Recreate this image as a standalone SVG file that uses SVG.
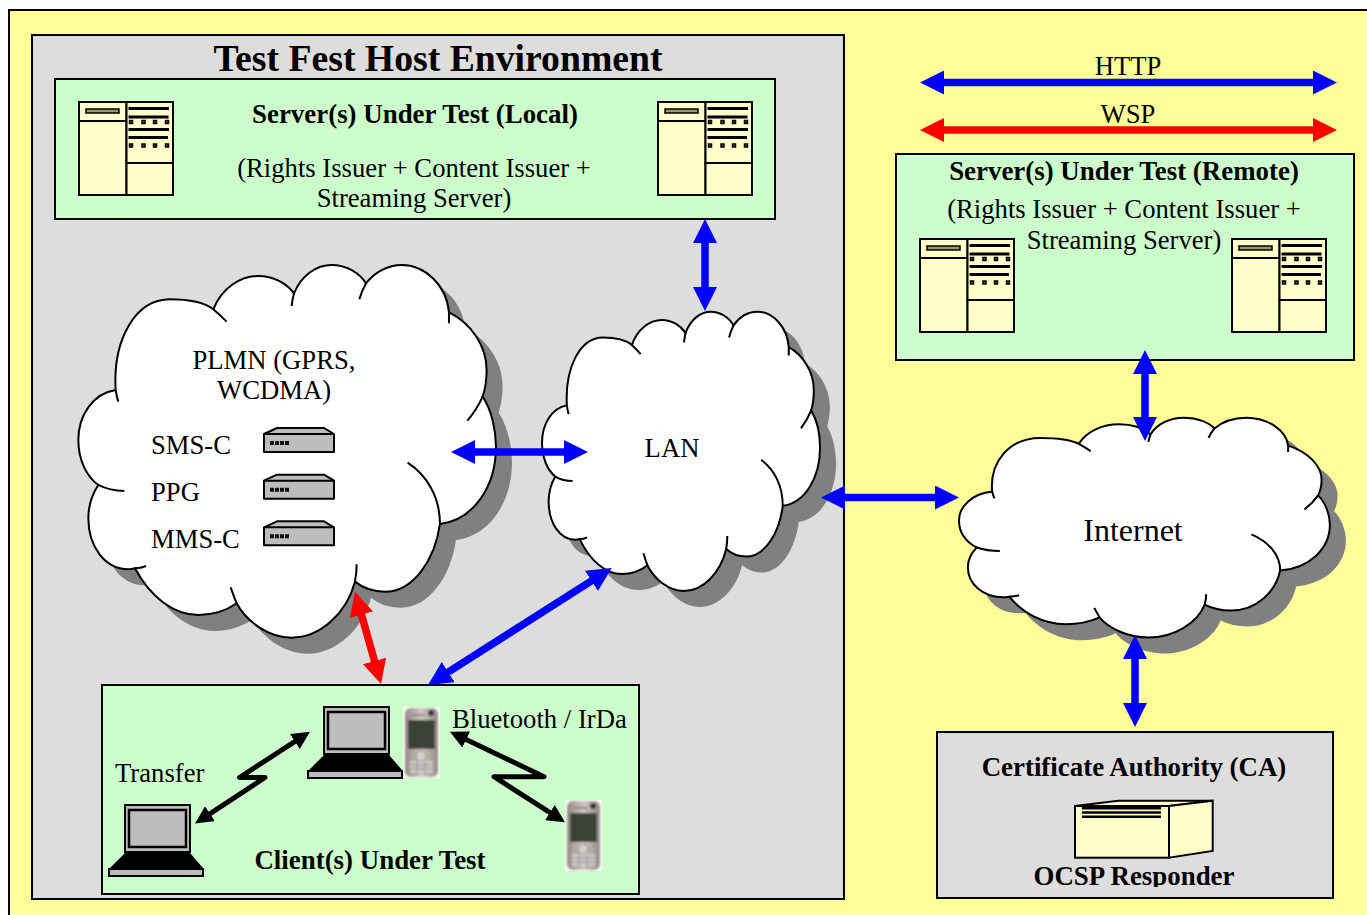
<svg xmlns="http://www.w3.org/2000/svg" xmlns:xlink="http://www.w3.org/1999/xlink" width="1367" height="915" viewBox="0 0 1367 915">
<style>
text{font-family:"Liberation Serif","Times New Roman",serif;fill:#000;font-size:26.67px}
.b{font-weight:bold;font-size:26.900px}
.m{text-anchor:middle}
.box{stroke:#000;stroke-width:2}
.green{fill:#ccffcc}
.grey{fill:#dddddd}
.cream{fill:#ffffcc;stroke:#000;stroke-width:2}
.cloud{fill:#fff;stroke:#000;stroke-width:2}
.tick{fill:none;stroke:#000;stroke-width:2}
.ns{vector-effect:non-scaling-stroke}
.shadow{fill:#808080}
.blue{fill:none;stroke:#0000ff;stroke-width:7.500;marker-start:url(#hb);marker-end:url(#hb)}
.red{fill:none;stroke:#ff0000;stroke-width:7.500;marker-start:url(#hr);marker-end:url(#hr)}
.zig{fill:none;stroke:#000;stroke-width:5;stroke-linejoin:round;marker-start:url(#hk);marker-end:url(#hk)}
</style>
<defs>
<marker id="hb" markerUnits="userSpaceOnUse" markerWidth="24" markerHeight="24" viewBox="0 0 24 24" refX="1" refY="12" orient="auto-start-reverse"><path d="M0,0L24,12L0,24z" fill="#0000ff"/></marker>
<marker id="hr" markerUnits="userSpaceOnUse" markerWidth="24" markerHeight="24" viewBox="0 0 24 24" refX="1" refY="12" orient="auto-start-reverse"><path d="M0,0L24,12L0,24z" fill="#ff0000"/></marker>
<marker id="hk" markerUnits="userSpaceOnUse" markerWidth="18" markerHeight="18" viewBox="0 0 18 18" refX="3" refY="9" orient="auto-start-reverse"><path d="M0,0L18,9L0,18z" fill="#000"/></marker>
<path id="cp" class="ns" d="M137,420C128,270 195,148 300,148C350,148 400,155 430,178C455,115 510,78 565,78C610,78 650,100 672,130C695,75 740,45 785,45C830,45 870,70 888,100C915,65 955,45 995,45C1065,45 1130,105 1137,187C1205,220 1250,290 1250,360C1250,390 1245,420 1238,440C1265,480 1278,540 1278,590C1278,710 1210,810 1110,822C1095,930 1030,1025 945,1025C910,1025 880,1015 855,995C830,1090 750,1163 665,1163C595,1163 530,1115 500,1060C465,1085 425,1095 385,1095C310,1095 240,1040 195,955C185,958 180,958 175,958C105,958 55,890 55,805C55,765 65,735 85,705C50,680 25,630 25,570C25,495 70,430 137,420Z"/>
<path id="ct" class="ns" d="M137,420Q140,440 145,455M430,178Q450,195 470,215M672,130Q667,150 665,168M888,100Q875,125 868,148M1137,187L1137,220M1238,440Q1220,480 1192,512M1110,822C1110,740 1070,675 1013,638M855,995Q860,970 860,943M500,1060Q490,1035 482,1012M195,955Q212,955 228,948M85,705Q120,723 163,723"/>
<g id="srv">
<rect class="cream" x="0" y="0" width="47.500" height="93"/>
<rect class="cream" x="47.500" y="0" width="46.500" height="61"/>
<rect class="cream" x="47.500" y="61" width="46.500" height="32"/>
<path d="M0,19H47.500" stroke="#000" stroke-width="2"/>
<rect x="7" y="7" width="33" height="4" fill="#999966" stroke="#000" stroke-width="1.500"/>
<path d="M49.500,6.500H90M49.500,15H89.500M49.500,27.500H90M49.500,35.500H89" stroke="#000" stroke-width="3"/>
<path d="M50.500,18.500h3v3h-3zM63,18.500h3v3h-3zM74.500,18.500h3v3h-3zM86.500,18.500h3v3h-3zM50.500,42h3v3h-3zM63,42h3v3h-3zM74.500,42h3v3h-3zM86.500,42h3v3h-3z" fill="#555" stroke="#000" stroke-width="1.500"/>
</g>
<g id="rt">
<path d="M0,6L13,0H60L70,6V24H0Z" fill="#bdbdbd" stroke="#000" stroke-width="2" stroke-linejoin="round"/>
<path d="M0,6H70" stroke="#000" stroke-width="2"/>
<path d="M6,13h4v4h-4zM11,13h4v4h-4zM16,13h4v4h-4zM21,13h4v4h-4z" fill="#111"/>
</g>
<g id="lap">
<rect x="1" y="0" width="65" height="47" fill="#bdbdbd" stroke="#000" stroke-width="2"/>
<rect x="5" y="5" width="57" height="37" fill="#bdbdbd" stroke="#000" stroke-width="2.500"/>
<path d="M1,48H66L79,63H-14Z" fill="#000"/>
<rect x="27" y="57" width="43" height="4" fill="#000"/>
<rect x="-15" y="64" width="94" height="7" fill="#bdbdbd" stroke="#000" stroke-width="2"/>
</g>
<linearGradient id="pg" x1="0" x2="1" y1="0" y2="0"><stop offset="0" stop-color="#948a84"/><stop offset=".5" stop-color="#d2c8c4"/><stop offset="1" stop-color="#948a84"/></linearGradient>
<filter id="soft" x="-5%" y="-5%" width="110%" height="110%"><feGaussianBlur stdDeviation="1"/></filter>
<g id="ph">
<rect x="0" y="0" width="37" height="71" fill="#fbfbf6"/>
<g filter="url(#soft)">
<rect x="2" y="1" width="33" height="69" rx="6" fill="url(#pg)"/>
<rect x="5" y="13" width="27" height="29" fill="#3e4238"/>
<circle cx="28" cy="6" r="3" fill="#333"/>
<rect x="8" y="7" width="14" height="2" fill="#888"/>
<circle cx="18" cy="49" r="5" fill="#d8d2ce" stroke="#8a8a8a"/>
<path d="M7,54H30V66H7Z" fill="#cbc7c7"/>
<path d="M7,58H30M7,62H30M14,54V67M22,54V67" stroke="#9a9595" stroke-width="1"/>
</g>
</g>
<clipPath id="caclip"><rect x="937" y="732" width="396" height="155"/></clipPath>
</defs>

<rect x="0" y="0" width="1367" height="915" fill="#fff"/>
<rect id="page" class="box" x="9" y="10" width="1370" height="920" fill="#ffff99"/>

<g id="host">
<rect class="box grey" x="32" y="35" width="812" height="864"/>
<text class="b m" x="438" y="71" style="font-size:37.700px">Test Fest Host Environment</text>
</g>

<g id="local">
<rect class="box green" x="55" y="79" width="720" height="140"/>
<use href="#srv" x="79" y="102"/>
<use href="#srv" x="658" y="102"/>
<text class="b m" x="415" y="123">Server(s) Under Test (Local)</text>
<text class="m" x="414" y="177">(Rights Issuer + Content Issuer +</text>
<text class="m" x="414" y="207">Streaming Server)</text>
</g>

<g id="remote">
<rect class="box green" x="896" y="154" width="458" height="206"/>
<use href="#srv" x="920" y="239"/>
<use href="#srv" x="1232" y="239"/>
<text class="b m" x="1124" y="180">Server(s) Under Test (Remote)</text>
<text class="m" x="1124" y="218">(Rights Issuer + Content Issuer +</text>
<text class="m" x="1124" y="249">Streaming Server)</text>
</g>

<g id="plmn">
<use href="#cp" class="shadow" transform="translate(86,266) scale(.3333)"/>
<use href="#cp" class="cloud" transform="translate(70,250) scale(.3333)"/>
<use href="#ct" class="tick" transform="translate(70,250) scale(.3333)"/>
<text class="m" x="274" y="369">PLMN (GPRS,</text>
<text class="m" x="274" y="399">WCDMA)</text>
<text x="151" y="454">SMS-C</text>
<text x="151" y="501">PPG</text>
<text x="151" y="548">MMS-C</text>
<use href="#rt" x="264" y="428"/>
<use href="#rt" x="264" y="474.700"/>
<use href="#rt" x="264" y="521.300"/>
</g>

<g id="lan">
<use href="#cp" class="shadow" transform="translate(552.450,316.430) scale(.2219,.24987)"/>
<use href="#cp" class="cloud" transform="translate(536.450,300.430) scale(.2219,.24987)"/>
<use href="#ct" class="tick" transform="translate(536.450,300.430) scale(.2219,.24987)"/>
<text class="m" x="672" y="457">LAN</text>
</g>

<g id="internet">
<use href="#cp" class="shadow" transform="translate(967.600,424.820) scale(.296,.1967)"/>
<use href="#cp" class="cloud" transform="translate(951.600,408.820) scale(.296,.1967)"/>
<use href="#ct" class="tick" transform="translate(951.600,408.820) scale(.296,.1967)"/>
<text class="m" x="1133" y="541" style="font-size:32px">Internet</text>
</g>

<g id="client">
<rect class="box green" x="102" y="685" width="537" height="209"/>
<use href="#lap" x="323" y="707"/>
<use href="#lap" x="124" y="805"/>
<use href="#ph" x="403" y="707"/>
<use href="#ph" x="565" y="800"/>
<text x="452" y="728">Bluetooth / IrDa</text>
<text x="115" y="782">Transfer</text>
<text class="b m" x="370" y="869">Client(s) Under Test</text>
</g>

<g id="ca">
<rect class="box grey" x="937" y="732" width="396" height="166"/>
<text class="b m" x="1134" y="776">Certificate Authority (CA)</text>
<path d="M1075,806L1118.300,800.700H1212.700L1169,806Z" class="cream"/>
<path d="M1169,806L1212.700,800.700V851L1169,857.700Z" class="cream"/>
<rect x="1075" y="806" width="94" height="51.700" class="cream"/>
<path d="M1082,808.300H1161M1082,812.500H1161M1082,816.700H1161" stroke="#000" stroke-width="2.500"/>
<text class="b m" x="1134" y="885" clip-path="url(#caclip)">OCSP Responder</text>
</g>

<g id="labels">
<text class="m" x="1128" y="75">HTTP</text>
<text class="m" x="1128" y="123">WSP</text>
</g>

<g id="connectors">
<path class="blue" d="M943,82.500H1314"/>
<path class="red" d="M943,130H1314"/>
<path class="blue" d="M705,242V288"/>
<path class="blue" d="M474,452H565"/>
<path class="blue" d="M844,497.500H936"/>
<path class="blue" d="M447.400,672.600L592.300,580.400"/>
<path class="red" d="M361.200,613.800L374.800,661.900"/>
<path class="blue" d="M1145,373V418"/>
<path class="blue" d="M1135,658V704"/>
<path class="zig" d="M297.400,739.900L239.500,777.500H265L207.500,815.300"/>
<path class="zig" d="M463.500,738.200L544,776.700H494L552.400,814.200"/>
</g>
</svg>
